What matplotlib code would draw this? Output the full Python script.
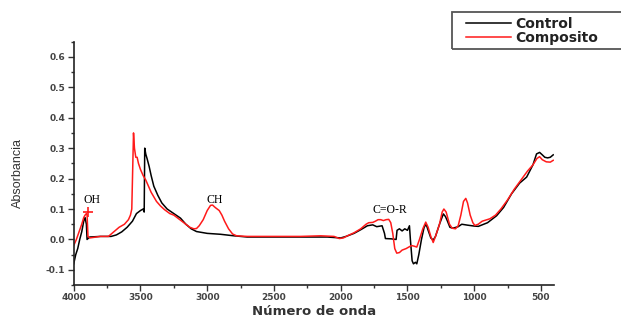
import numpy as np
import matplotlib; matplotlib.use("Agg")
import matplotlib.pyplot as plt
from matplotlib.patches import Rectangle
from matplotlib.ticker import MultipleLocator

# FTIR spectra (wavenumber cm-1, absorbance)
ctrl_x = [4000, 3985, 3970, 3955, 3940, 3925, 3915, 3905, 3900, 3880, 3800, 3720, 3680, 3640,
          3600, 3560, 3530, 3500, 3480, 3472, 3468, 3460, 3450, 3435, 3420, 3400, 3370, 3340,
          3300, 3250, 3200, 3160, 3120, 3080, 3000, 2900, 2800, 2700, 2500, 2300, 2100, 2000,
          1960, 1900, 1850, 1800, 1760, 1730, 1690, 1672, 1665, 1620, 1585, 1578, 1560, 1540,
          1520, 1500, 1485, 1478, 1465, 1455, 1440, 1430, 1415, 1395, 1375, 1360, 1345, 1325,
          1307, 1290, 1260, 1231, 1215, 1200, 1182, 1160, 1120, 1093, 1050, 1000, 969, 900,
          832, 780, 720, 660, 607, 560, 533, 510, 490, 471, 450, 430, 408]
ctrl_y = [-0.08, -0.05, -0.03, 0.0, 0.025, 0.06, 0.072, 0.05, 0.0, 0.008, 0.01, 0.01, 0.015, 0.025,
          0.04, 0.06, 0.085, 0.095, 0.1, 0.09, 0.3, 0.28, 0.265, 0.24, 0.21, 0.175, 0.145, 0.12,
          0.1, 0.085, 0.07, 0.05, 0.035, 0.026, 0.02, 0.017, 0.012, 0.008, 0.008, 0.008, 0.008, 0.005,
          0.01, 0.02, 0.032, 0.045, 0.048, 0.042, 0.045, 0.02, 0.003, 0.002, 0.0, 0.03, 0.035, 0.028,
          0.035, 0.03, 0.045, 0.0, -0.07, -0.08, -0.075, -0.08, -0.05, 0.0, 0.04, 0.05, 0.03, 0.005,
          -0.002, 0.01, 0.05, 0.084, 0.075, 0.06, 0.04, 0.037, 0.042, 0.05, 0.047, 0.044, 0.043, 0.055,
          0.078, 0.105, 0.15, 0.185, 0.205, 0.245, 0.281, 0.286, 0.278, 0.27, 0.268, 0.27, 0.278]

comp_x = [4000, 3980, 3960, 3940, 3925, 3915, 3905, 3900, 3893, 3880, 3800, 3740, 3700, 3660,
          3620, 3590, 3575, 3565, 3552, 3545, 3535, 3525, 3515, 3500, 3480, 3460, 3440, 3420,
          3400, 3380, 3350, 3320, 3280, 3250, 3220, 3190, 3160, 3130, 3100, 3080, 3060, 3030,
          3000, 2975, 2960, 2940, 2910, 2890, 2870, 2840, 2810, 2780, 2700, 2500, 2300, 2150,
          2050, 2010, 1980, 1950, 1900, 1850, 1810, 1790, 1760, 1740, 1720, 1700, 1680, 1660,
          1640, 1625, 1610, 1595, 1580, 1560, 1540, 1510, 1490, 1470, 1450, 1430, 1410, 1385,
          1363, 1345, 1325, 1307, 1290, 1260, 1240, 1227, 1210, 1185, 1165, 1140, 1120, 1100,
          1080, 1063, 1050, 1030, 1010, 995, 970, 940, 882, 840, 800, 750, 700, 650, 600, 560,
          530, 510, 490, 460, 430, 408]
comp_y = [-0.02, 0.0, 0.025, 0.05, 0.072, 0.08, 0.085, 0.08, 0.01, 0.005, 0.01, 0.01, 0.025, 0.04,
          0.05, 0.065, 0.08, 0.1, 0.35, 0.3, 0.27, 0.27, 0.25, 0.23, 0.21, 0.195, 0.175, 0.155,
          0.14, 0.125, 0.11, 0.098, 0.085, 0.08, 0.07, 0.06, 0.05, 0.04, 0.035, 0.036, 0.045, 0.065,
          0.095, 0.112, 0.113, 0.105, 0.095, 0.08, 0.06, 0.035, 0.018, 0.012, 0.01, 0.01, 0.01, 0.012,
          0.01, 0.003, 0.005, 0.012, 0.022, 0.035, 0.05, 0.055, 0.056, 0.06, 0.065, 0.065, 0.062, 0.065,
          0.066, 0.055, 0.02, -0.03, -0.045, -0.043, -0.035, -0.03, -0.025, -0.02, -0.022, -0.025, 0.0, 0.035,
          0.057, 0.04, 0.01, -0.01, 0.01, 0.05, 0.09, 0.1, 0.09, 0.05, 0.037, 0.035, 0.045, 0.08,
          0.125, 0.135, 0.12, 0.08, 0.055, 0.046, 0.05, 0.06, 0.068, 0.08, 0.1, 0.13, 0.165, 0.195, 0.225, 0.245,
          0.266, 0.272, 0.262, 0.255, 0.254, 0.26]

# the little red cross at the OH band
cross_x = [3895]
cross_y = [0.09]

labels = ["OH", "CH", "C=O-R"]
label_x = [3866, 2944, 1633]
label_y = [0.131, 0.131, 0.098]

W, H = 621, 320
fig = plt.figure(figsize=(W / 100, H / 100), dpi=100)
ax = fig.add_axes([0.1187, 0.109, 0.7728, 0.761])

ax.plot(ctrl_x, ctrl_y, color="black", lw=1.1, label="Control")
ax.plot(comp_x, comp_y, color="#ff1a1a", lw=1.1, label="Composito")
ax.plot(cross_x, cross_y, ls="none", marker="+", ms=7, mew=1.2, color="#ff1a1a")

for t, x, y in zip(labels, label_x, label_y):
    ax.text(x, y, t, family="Liberation Serif", fontsize=8.5, ha="center", va="center")

ax.set_xlim(4000, 405)
ax.set_ylim(-0.15, 0.65)
ax.xaxis.set_major_locator(MultipleLocator(500))
ax.xaxis.set_minor_locator(MultipleLocator(250))
yt = np.arange(-0.1, 0.61, 0.1)
ax.set_yticks(yt)
ax.set_yticklabels([f"{v:.1f}" for v in yt])
ax.yaxis.set_minor_locator(MultipleLocator(0.05))
ax.tick_params(which="major", direction="out", length=4, width=1, color="#333")
ax.tick_params(which="minor", direction="out", length=2, width=1, color="#333")
ax.tick_params(labelsize=6.5, labelcolor="#444", pad=2)
for lab in ax.get_xticklabels() + ax.get_yticklabels():
    lab.set_fontweight("bold")
for s in ["top", "right"]:
    ax.spines[s].set_visible(False)
for s in ["left", "bottom"]:
    ax.spines[s].set_linewidth(1.2)
    ax.spines[s].set_color("#222")

ax.set_xlabel("Número de onda", fontsize=9.5, fontweight="bold", color="#333", labelpad=2)
ax.set_ylabel("Absorbancia", family=["Liberation Sans Narrow", "Liberation Sans"], fontsize=9,
              color="#333")
ax.yaxis.set_label_coords(-0.103, 0.46)

# legend box runs off the right edge in the original
fig.patches.append(Rectangle((451.5 / W, 1 - 48.5 / H), 180 / W, 36 / H, transform=fig.transFigure,
                             fill=False, edgecolor="#555", lw=1.3))
leg = fig.legend(loc="upper left", bbox_to_anchor=(462 / W, 1 - 13 / H), frameon=False,
                 borderaxespad=0, handlelength=3.2, handletextpad=0.35, borderpad=0.3,
                 labelspacing=0.0, prop={"weight": "bold", "size": 10})
for t in leg.get_texts():
    t.set_color("#222")

plt.savefig("out.png", dpi=100)
plt.close()
